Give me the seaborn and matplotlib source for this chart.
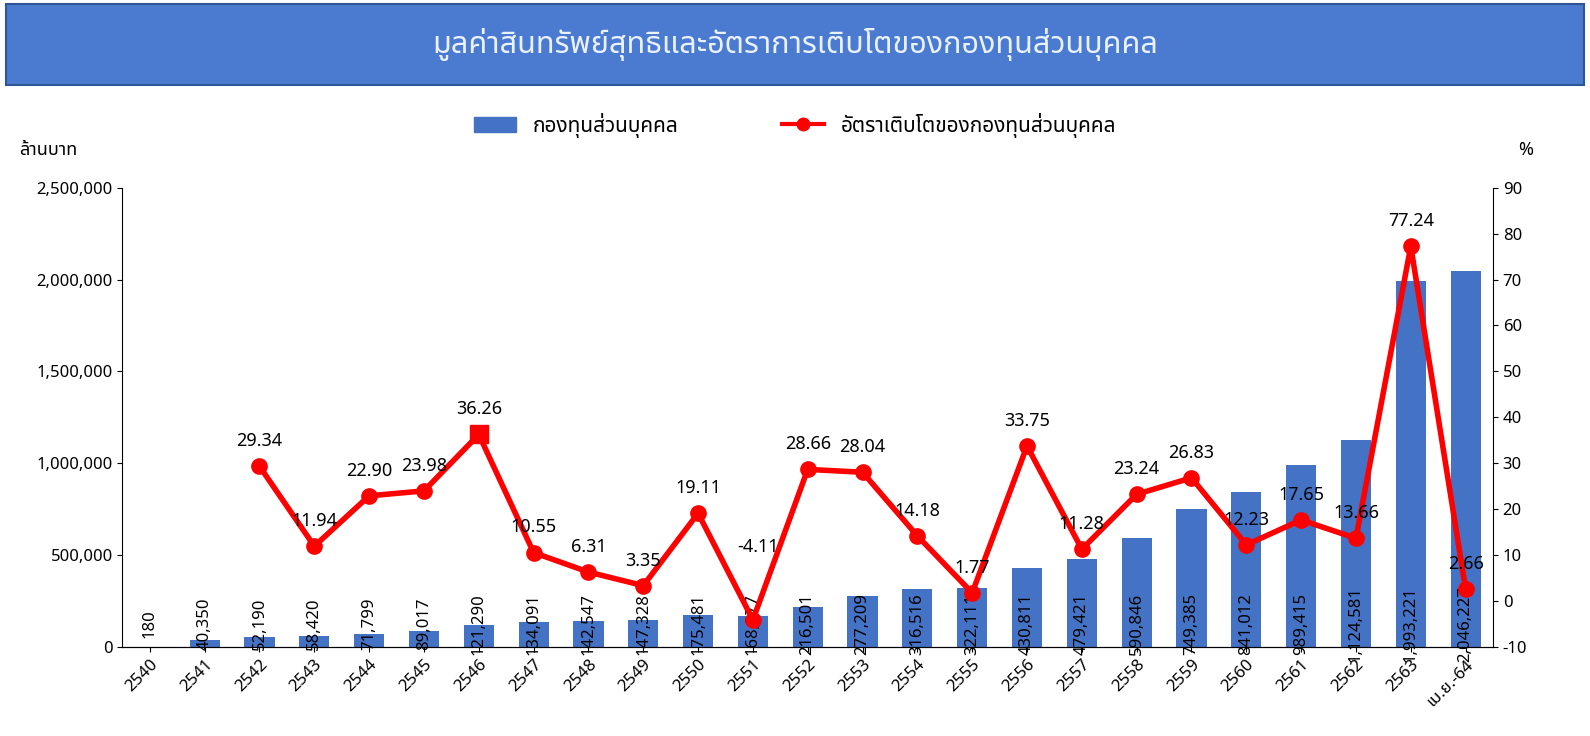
import matplotlib.pyplot as plt
import seaborn as sns
import numpy as np
import pandas as pd
from matplotlib import font_manager
from matplotlib.patches import Rectangle
from matplotlib.lines import Line2D

years = ['2540', '2541', '2542', '2543', '2544', '2545', '2546', '2547', '2548', '2549',
         '2550', '2551', '2552', '2553', '2554', '2555', '2556', '2557', '2558', '2559',
         '2560', '2561', '2562', '2563', 'เม.ย.-64']
nav = [180, 40350, 52190, 58420, 71799, 89017, 121290, 134091, 142547, 147328,
       175481, 168277, 216501, 277209, 316516, 322111, 430811, 479421, 590846, 749385,
       841012, 989415, 1124581, 1993221, 2046227]
growth = [None, None, 29.34, 11.94, 22.90, 23.98, 36.26, 10.55, 6.31, 3.35,
          19.11, -4.11, 28.66, 28.04, 14.18, 1.77, 33.75, 11.28, 23.24, 26.83,
          12.23, 17.65, 13.66, 77.24, 2.66]

names = {f.name for f in font_manager.fontManager.ttflist}
fams = [f for f in ['Noto Sans Thai', 'Loma', 'Garuda', 'Tahoma', 'Noto Sans', 'DejaVu Sans'] if f in names]
plt.rcParams['font.family'] = fams

df = pd.DataFrame({'year': years, 'nav': nav, 'growth': growth})

fig = plt.figure(figsize=(15.9, 7.36), dpi=100)
fig.patch.set_facecolor('white')
ax = fig.add_axes([0.077, 0.121, 0.862, 0.624])
sns.barplot(data=df, x='year', y='nav', color='#4472C4', width=0.55, ax=ax, saturation=1)
ax.set_xlim(-0.5, len(years) - 0.5)
ax.set_ylim(0, 2500000)
ax.set_yticks(np.arange(0, 2500001, 500000))
ax.set_yticklabels([f'{v:,}' for v in range(0, 2500001, 500000)], fontsize=12)
ax.set_xlabel('')
ax.set_ylabel('')
ax.tick_params(axis='x', labelrotation=45, labelsize=12)
for lab in ax.get_xticklabels():
    lab.set_ha('right')
    lab.set_rotation_mode('anchor')
for i, v in enumerate(nav):
    ax.text(i, 125000, f'{v:,}', rotation=90, ha='center', va='center', fontsize=12)
for s in ['top', 'right']:
    ax.spines[s].set_visible(False)

ax2 = ax.twinx()
x = np.arange(len(years))
g = df['growth'].astype(float)
ax2.plot(x, g, color='red', lw=4, marker='o', markersize=11)
ax2.plot([6], [growth[6]], color='red', marker='s', markersize=13, ls='none')
ax2.set_ylim(-10, 90)
ax2.set_yticks(range(-10, 91, 10))
ax2.tick_params(labelsize=12)
for s in ['top', 'left']:
    ax2.spines[s].set_visible(False)
for i, v in enumerate(growth):
    if v is None:
        continue
    if i == 11:
        ax2.text(i + 0.1, v + 14, f'{v:.2f}', ha='center', va='bottom', fontsize=13)
    else:
        ax2.text(i, v + 3.5, f'{v:.2f}', ha='center', va='bottom', fontsize=13)

fig.text(0.012, 0.79, 'ล้านบาท', fontsize=13, fontweight='bold')
fig.text(0.955, 0.79, '%', fontsize=13, fontweight='bold')

fig.patches.append(Rectangle((0.004, 0.885), 0.992, 0.11, transform=fig.transFigure,
                             facecolor='#4A7BD0', edgecolor='#2F5597', lw=1.5))
fig.text(0.5, 0.94, 'มูลค่าสินทรัพย์สุทธิและอัตราการเติบโตของกองทุนส่วนบุคคล', ha='center',
         va='center', color='#EAF1FF', fontsize=22, fontweight='bold')

handles = [Rectangle((0, 0), 1, 1, color='#4472C4'),
           Line2D([0], [0], color='red', lw=3, marker='o', markersize=9)]
fig.legend(handles, ['กองทุนส่วนบุคคล', 'อัตราเติบโตของกองทุนส่วนบุคคล'], loc='center',
           bbox_to_anchor=(0.5, 0.83), ncol=2, frameon=False, fontsize=15, columnspacing=5)

fig.savefig('out.png', dpi=100)
